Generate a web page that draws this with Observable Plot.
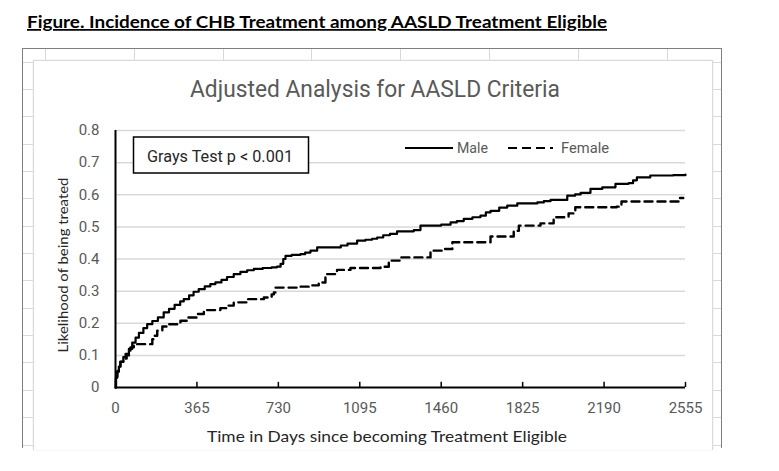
<!DOCTYPE html>
<html><head><meta charset="utf-8">
<script src="https://cdn.jsdelivr.net/npm/d3@7"></script>
<script src="https://cdn.jsdelivr.net/npm/@observablehq/plot@0.6"></script>
<style>
body{margin:0;background:#fff;}
#wrap{position:relative;width:779px;height:471px;overflow:hidden;background:#fff;}
.abs{position:absolute;box-sizing:border-box;}
svg.layer{position:absolute;left:0;top:0;}
</style></head><body><div id="wrap"></div>
<script>
// ---- data ----
const xTicks = [0, 365, 730, 1095, 1460, 1825, 2190, 2555];
const yTicks = [0, 0.1, 0.2, 0.3, 0.4, 0.5, 0.6, 0.7, 0.8];
const seriesNames = ["Male", "Female"];
const maleDays = [0,2,8,15,22,35,45,60,75,90,105,125,142,165,190,216,240,265,290,306,330,350,373,400,425,448,475,500,530,560,590,620,660,700,724,740,752,762,790,829,850,874,904,993,1010,1040,1083,1120,1150,1173,1200,1230,1262,1337,1367,1427,1460,1502,1530,1561,1600,1636,1660,1681,1720,1756,1801,1891,1920,1950,2002,2025,2060,2085,2129,2182,2241,2300,2320,2337,2397,2500,2555];
const maleVals = [0,0.03,0.05,0.065,0.08,0.095,0.105,0.12,0.14,0.155,0.17,0.185,0.197,0.207,0.218,0.234,0.245,0.257,0.268,0.275,0.287,0.298,0.306,0.315,0.322,0.327,0.335,0.344,0.353,0.36,0.365,0.369,0.372,0.374,0.376,0.385,0.4,0.41,0.413,0.415,0.42,0.426,0.436,0.436,0.442,0.448,0.457,0.46,0.463,0.467,0.474,0.478,0.486,0.49,0.504,0.504,0.507,0.514,0.518,0.525,0.53,0.535,0.545,0.55,0.56,0.566,0.573,0.576,0.58,0.584,0.584,0.597,0.601,0.606,0.618,0.623,0.634,0.636,0.645,0.654,0.66,0.661,0.663];
const femaleDays = [0,2,8,15,22,35,50,60,67,82,157,165,172,187,210,231,291,321,366,396,470,500,530,590,665,700,710,717,829,880,911,941,993,1053,1188,1225,1277,1412,1472,1510,1667,1681,1785,1808,1905,1964,2031,2061,2246,2268,2499,2529,2545];
const femaleVals = [0,0.03,0.05,0.065,0.08,0.09,0.1,0.109,0.125,0.135,0.135,0.15,0.161,0.177,0.19,0.197,0.208,0.218,0.229,0.241,0.247,0.255,0.265,0.275,0.28,0.29,0.296,0.311,0.314,0.318,0.327,0.353,0.366,0.372,0.376,0.395,0.405,0.426,0.431,0.452,0.452,0.47,0.488,0.504,0.511,0.53,0.542,0.561,0.563,0.579,0.579,0.59,0.59];

const wrap = document.getElementById("wrap");
function box(l,t,w,h,css){const d=document.createElement("div");d.className="abs";d.style.cssText=`left:${l}px;top:${t}px;width:${w}px;height:${h}px;`+css;wrap.appendChild(d);return d;}

// ---- spreadsheet frame decoration ----
box(22,48,700,400,"border:1px solid #7f7f7f;border-bottom:none;");
for(let y=61.6;y<448;y+=27.35){ box(23,Math.round(y),10,1,"background:#d9d9d9;"); box(713,Math.round(y),8,1,"background:#d9d9d9;"); }
for(let x=45;x<713;x+=88.8){ box(Math.round(x),49,1,11,"background:#d9d9d9;"); }
box(33,60,680,390,"border:1px solid #d9d9d9;border-bottom:none;box-shadow:0 0 2px #e6e6e6;background:#fff;");

// ---- chart ----
const rows = [
  ...maleDays.map((d,i)=>({day:d,p:maleVals[i],sex:seriesNames[0]})),
  ...femaleDays.map((d,i)=>({day:d,p:femaleVals[i],sex:seriesNames[1]}))
];
const chart = Plot.plot({
  width:779, height:471,
  marginLeft:115, marginRight:94, marginTop:130, marginBottom:84,
  style:{background:"transparent", fontFamily:"Roboto, sans-serif", fontSize:"15px", color:"#595959", overflow:"visible"},
  x:{domain:[0,2555]},
  y:{domain:[0,0.8]},
  marks:[
    Plot.gridY(yTicks.slice(1),{stroke:"#d9d9d9",strokeOpacity:1,strokeWidth:1.5}),
    Plot.axisY({ticks:yTicks,tickSize:0,tickPadding:16,tickFormat:d=>String(d),label:null}),
    Plot.axisX({ticks:xTicks,tickSize:0,tickPadding:15,tickFormat:d=>String(d),label:null}),
    Plot.line(rows.filter(r=>r.sex===seriesNames[0]),{x:"day",y:"p",curve:"step-after",stroke:"#000",strokeWidth:2.2}),
    Plot.line(rows.filter(r=>r.sex===seriesNames[1]),{x:"day",y:"p",curve:"step-after",stroke:"#000",strokeWidth:2.4,strokeDasharray:"8,5"}),
    Plot.ruleX([0],{stroke:"#000",strokeWidth:2}),
    Plot.ruleY([0],{stroke:"#000",strokeWidth:2}),
    Plot.ruleX(xTicks.slice(1),{x:d=>d,y1:0,y2:0.016,stroke:"#000",strokeWidth:1.5})
  ]
});
chart.classList.add("layer");
wrap.appendChild(chart);

// ---- overlay texts ----
const ov = d3.select(wrap).append("svg").attr("class","layer").attr("width",779).attr("height",471);
function txt(s,x,y,o){const t=ov.append("text").attr("x",x).attr("y",y).text(s)
  .attr("font-family",o.font).attr("font-size",o.size).attr("fill",o.fill||"#000")
  .attr("font-weight",o.weight||"normal");
  if(o.len){t.attr("textLength",o.len).attr("lengthAdjust","spacingAndGlyphs");}
  if(o.anchor) t.attr("text-anchor",o.anchor);
  if(o.transform) t.attr("transform",o.transform);
  return t;}
txt("Figure. Incidence of CHB Treatment among AASLD Treatment Eligible",27,28,{font:"Lato, sans-serif",size:17.5,weight:"bold",len:580,fill:"#000"}).attr("text-decoration","underline");
txt("Adjusted Analysis for AASLD Criteria",190,97,{font:"'Liberation Sans Narrow', Roboto, sans-serif",size:23,len:370,fill:"#595959"});
txt("Time in Days since becoming Treatment Eligible",207,442,{font:"Lato, sans-serif",size:16,len:360,fill:"#262626"});
txt("Likelihood of being treated",0,0,{font:"Lato, sans-serif",size:14,len:175,fill:"#262626",anchor:"middle",transform:"translate(68,265) rotate(-90)"});
// Grays test box
ov.append("rect").attr("x",133.5).attr("y",137).attr("width",175).attr("height",36).attr("fill","#fff").attr("stroke","#000").attr("stroke-width",1.5);
txt("Grays Test p < 0.001",147,161.5,{font:"Roboto, sans-serif",size:16,len:146,fill:"#262626"});
// legend
const leg=[{name:seriesNames[0],x1:405,x2:453,tx:457,len:31,dash:null},{name:seriesNames[1],x1:508,x2:553,tx:561,len:48,dash:"9,5"}];
leg.forEach(l=>{
  const ln=ov.append("line").attr("x1",l.x1).attr("x2",l.x2).attr("y1",148).attr("y2",148).attr("stroke","#000").attr("stroke-width",2);
  if(l.dash) ln.attr("stroke-dasharray",l.dash);
  txt(l.name,l.tx,153,{font:"Roboto, sans-serif",size:15,len:l.len,fill:"#595959"});
});
</script></body></html>
